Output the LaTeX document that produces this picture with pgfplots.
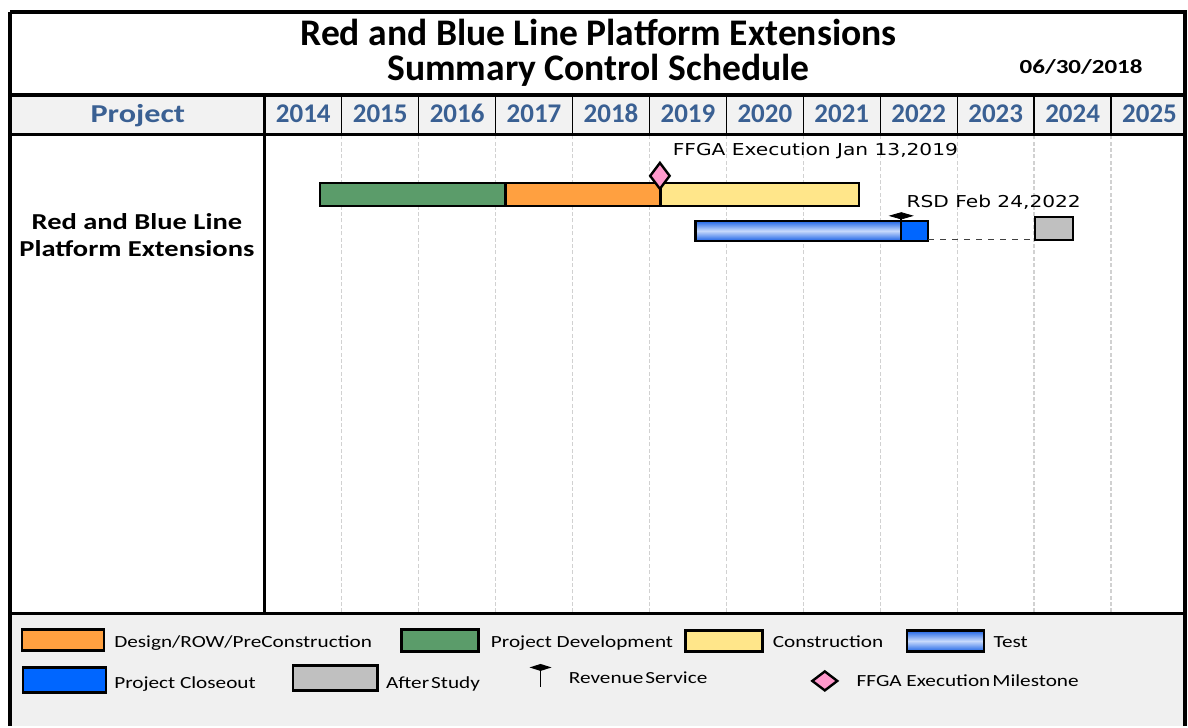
\documentclass[border=0pt]{standalone}
\usepackage{pgfplots}
\pgfplotsset{compat=1.18}
\usepackage{fontspec}
\setmainfont{Carlito}
\newfontfamily\wide[FakeStretch=1.25]{Carlito}
\newfontfamily\dv[FakeStretch=1.23]{DejaVu Sans}
\definecolor{pgreen}{RGB}{91,156,106}
\definecolor{porange}{RGB}{255,160,64}
\definecolor{pyellow}{RGB}{255,230,138}
\definecolor{tdark}{RGB}{30,100,230}
\definecolor{tlight}{RGB}{200,218,252}
\definecolor{pblue}{RGB}{0,102,255}
\definecolor{pgray}{RGB}{192,192,192}
\definecolor{ppink}{RGB}{255,153,204}
\definecolor{hblue}{RGB}{58,96,147}
\definecolor{hdrgray}{RGB}{242,242,242}
\definecolor{leggray}{RGB}{240,240,240}
\begin{document}
\begin{tikzpicture}
\begin{scope}[x=0.5pt,y=-0.5pt]
\useasboundingbox (0,0) rectangle (1188,727);
\fill[white] (0,0) rectangle (1188,727);
\fill[hdrgray] (10,95) rectangle (1186,135);
\fill[leggray] (10,614) rectangle (1186,727);
\end{scope}
\begin{axis}[at={(132.5pt,-306.5pt)}, anchor=south west, scale only axis,
  width=462pt, height=239pt, xmin=2014, xmax=2026, ymin=0, ymax=478,
  axis line style={draw=none}, xtick={2015,...,2025}, xticklabels={},
  ytick=\empty, major tick length=0pt, xmajorgrids,
  grid style={black!18, dash pattern=on 2pt off 1.2pt, line width=0.6pt}, clip=false]
% Project Development
\addplot[draw=black, line width=1.2pt, fill=pgreen] coordinates {(2014.714,407) (2017.130,407) (2017.130,430) (2014.714,430)} -- cycle;
% Design/ROW/PreConstruction
\addplot[draw=black, line width=1.2pt, fill=porange] coordinates {(2017.130,407) (2019.143,407) (2019.143,430) (2017.130,430)} -- cycle;
% Construction
\addplot[draw=black, line width=1.2pt, fill=pyellow] coordinates {(2019.143,407) (2021.727,407) (2021.727,430) (2019.143,430)} -- cycle;
% Test
\addplot[draw=black, line width=1.2pt, top color=tdark, bottom color=tdark, middle color=tlight] coordinates {(2019.597,372) (2022.273,372) (2022.273,392) (2019.597,392)} -- cycle;
% Project Closeout
\addplot[draw=black, line width=1.2pt, fill=pblue] coordinates {(2022.273,372) (2022.623,372) (2022.623,392) (2022.273,392)} -- cycle;
% dashed link
\addplot[black!75, dashed, line width=0.6pt] coordinates {(2022.623,373) (2024.013,373)};
% After Study
\addplot[draw=black, line width=1.2pt, fill=pgray] coordinates {(2024.013,373) (2024.506,373) (2024.506,396) (2024.013,396)} -- cycle;
% Revenue service
\addplot[black, line width=1pt] coordinates {(2022.273,372) (2022.273,397)};
\addplot[only marks, mark=diamond*, mark size=4pt, mark options={xscale=1.85, yscale=0.4, fill=black, draw=black}] coordinates {(2022.273,397)};
% FFGA milestone
\addplot[only marks, mark=diamond*, mark size=6.5pt, mark options={fill=ppink, draw=black, line width=1.2pt}] coordinates {(2019.136,437)};
\end{axis}
\begin{scope}[x=0.5pt,y=-0.5pt]
% frame
\draw[line width=1.6pt] (10,12) -- (1186,12) -- (1186,727);
\draw[line width=1.6pt] (10,12) -- (10,727);
\draw[line width=2pt] (10,95) -- (1186,95);
\draw[line width=1.6pt] (10,135) -- (1186,135);
\draw[line width=1.8pt] (10,614) -- (1186,614);
\draw[line width=1.3pt] (265,95) -- (265,614);
\foreach \i in {1,...,11} { \draw[line width=0.7pt] (265+77*\i,95) -- (265+77*\i,135); }
% title
\node[anchor=base, inner sep=0pt] at (599,46) {\fontsize{18.8}{22}\selectfont\bfseries Red and Blue Line Platform Extensions};
\node[anchor=base, inner sep=0pt] at (599,81) {\fontsize{18.8}{22}\selectfont\bfseries Summary Control Schedule};
\node[anchor=base, inner sep=0pt] at (1082,74) {\fontsize{10}{12}\selectfont\wide\bfseries 06/30/2018};
% header
\node[anchor=base, inner sep=0pt, text=hblue] at (138,123) {\fontsize{12.9}{16}\selectfont\wide\bfseries Project};
\foreach \y [count=\i from 0] in {2014,...,2025} {
  \node[anchor=base, inner sep=0pt, text=hblue] at (303.5+77*\i,123) {\fontsize{13.5}{16}\selectfont\bfseries \y};
}
% row label
\node[anchor=base, inner sep=0pt] at (137,230) {\fontsize{11.4}{13}\selectfont\wide\bfseries Red and Blue Line};
\node[anchor=base, inner sep=0pt] at (137,257) {\fontsize{11.4}{13}\selectfont\wide\bfseries Platform Extensions};
% annotations
\node[anchor=base west, inner sep=0pt] at (673,156) {\fontsize{8.2}{10}\selectfont\dv FFGA Execution Jan 13,2019};
\node[anchor=base west, inner sep=0pt] at (907,208) {\fontsize{8.2}{10}\selectfont\dv RSD Feb 24,2022};
% legend
\draw[line width=1.2pt, fill=porange] (22,630) rectangle (104,651);
\node[anchor=base west, inner sep=0pt] at (114,648) {\fontsize{8.5}{10}\selectfont\wide Design/ROW/PreConstruction};
\draw[line width=1.2pt, fill=pgreen] (402,630) rectangle (479,652);
\node[anchor=base west, inner sep=0pt] at (491,648) {\fontsize{8.5}{10}\selectfont\wide Project Development};
\draw[line width=1.2pt, fill=pyellow] (686,631) rectangle (763,652);
\node[anchor=base west, inner sep=0pt] at (773,648) {\fontsize{8.5}{10}\selectfont\wide Construction};
\draw[line width=1.2pt, top color=tdark, bottom color=tdark, middle color=tlight] (908,631) rectangle (985,652);
\node[anchor=base west, inner sep=0pt] at (994,648) {\fontsize{8.5}{10}\selectfont\wide Test};
\draw[line width=1.2pt, fill=pblue] (23,668) rectangle (106,693);
\node[anchor=base west, inner sep=0pt] at (114,689) {\fontsize{8.5}{10}\selectfont\wide Project Closeout};
\draw[line width=1.2pt, fill=pgray] (293,666) rectangle (378,691);
\node[anchor=base west, inner sep=0pt] at (386,689) {\fontsize{8.5}{10}\selectfont\wide After\hspace{0.12em}Study};
\draw[line width=0.8pt] (541,668) -- (541,688);
\fill (530,668) -- (541,664.5) -- (552,668) -- (541,671.5) -- cycle;
\node[anchor=base west, inner sep=0pt] at (569,684) {\fontsize{8.5}{10}\selectfont\wide Revenue\hspace{0.12em}Service};
\draw[line width=1.2pt, fill=ppink] (813,681.5) -- (825.5,672) -- (838,681.5) -- (825.5,691) -- cycle;
\node[anchor=base west, inner sep=0pt] at (857,687) {\fontsize{8.5}{10}\selectfont\wide FFGA Execution\hspace{0.12em}Milestone};
\end{scope}
\end{tikzpicture}
\end{document}
